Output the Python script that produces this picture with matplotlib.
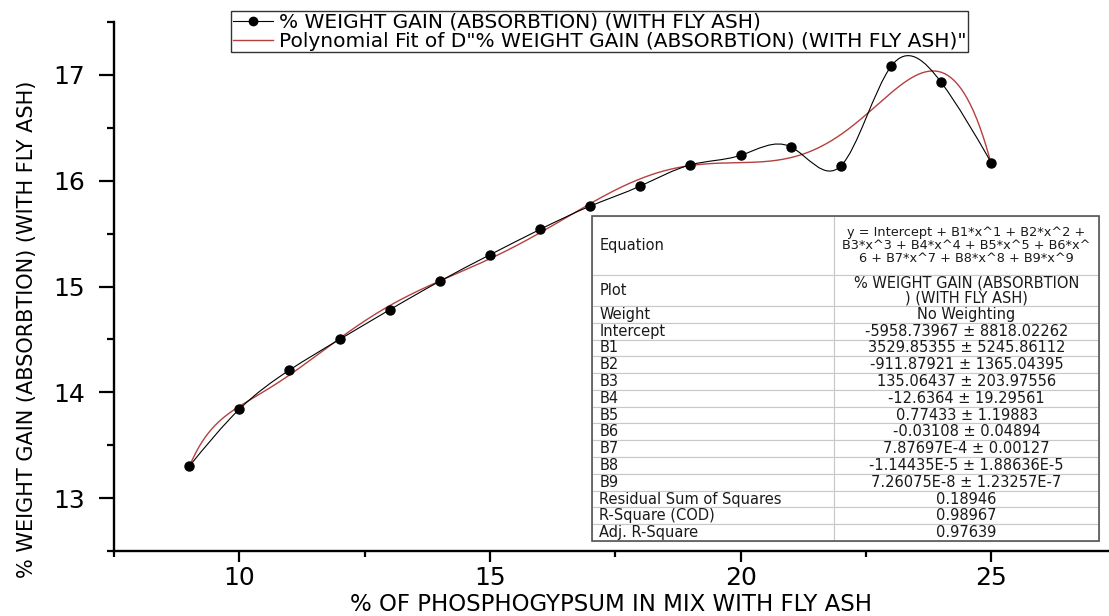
import numpy as np
import matplotlib.pyplot as plt
from matplotlib.path import Path
from matplotlib.patches import PathPatch, Rectangle
from matplotlib.lines import Line2D
from matplotlib.ticker import MultipleLocator

phosphogypsum = [9, 10, 11, 12, 13, 14, 15, 16, 17, 18, 19, 20, 21, 22, 23, 24, 25]
weight_gain = [13.30, 13.84, 14.21, 14.50, 14.78, 15.05, 15.30, 15.54, 15.76,
               15.95, 16.15, 16.24, 16.32, 16.14, 17.08, 16.93, 16.17]

data_label = "% WEIGHT GAIN (ABSORBTION) (WITH FLY ASH)"
fit_label = 'Polynomial Fit of D"% WEIGHT GAIN (ABSORBTION) (WITH FLY ASH)"'

# fit report table
table_labels = ["Equation", "Plot", "Weight", "Intercept", "B1", "B2", "B3", "B4",
                "B5", "B6", "B7", "B8", "B9", "Residual Sum of Squares",
                "R-Square (COD)", "Adj. R-Square"]
table_values = ["y = Intercept + B1*x^1 + B2*x^2 +\nB3*x^3 + B4*x^4 + B5*x^5 + B6*x^\n6 + B7*x^7 + B8*x^8 + B9*x^9",
                "% WEIGHT GAIN (ABSORBTION\n) (WITH FLY ASH)",
                "No Weighting",
                "-5958.73967 \u00b1 8818.02262",
                "3529.85355 \u00b1 5245.86112",
                "-911.87921 \u00b1 1365.04395",
                "135.06437 \u00b1 203.97556",
                "-12.6364 \u00b1 19.29561",
                "0.77433 \u00b1 1.19883",
                "-0.03108 \u00b1 0.04894",
                "7.87697E-4 \u00b1 0.00127",
                "-1.14435E-5 \u00b1 1.88636E-5",
                "7.26075E-8 \u00b1 1.23257E-7",
                "0.18946",
                "0.98967",
                "0.97639"]

red = '#b5403f'


def spline_path(x, y):
    # natural cubic spline through the points, as bezier segments
    x = np.asarray(x, float)
    y = np.asarray(y, float)
    n = len(x)
    h = np.diff(x)
    A = np.zeros((n, n))
    rhs = np.zeros(n)
    A[0, 0] = A[-1, -1] = 1
    for i in range(1, n - 1):
        A[i, i - 1] = h[i - 1]
        A[i, i] = 2 * (h[i - 1] + h[i])
        A[i, i + 1] = h[i]
        rhs[i] = 6 * ((y[i + 1] - y[i]) / h[i] - (y[i] - y[i - 1]) / h[i - 1])
    M = np.linalg.solve(A, rhs)
    verts = [(x[0], y[0])]
    codes = [Path.MOVETO]
    for i in range(n - 1):
        s = (y[i + 1] - y[i]) / h[i]
        d0 = s - h[i] * (2 * M[i] + M[i + 1]) / 6
        d1 = s + h[i] * (M[i] + 2 * M[i + 1]) / 6
        verts += [(x[i] + h[i] / 3, y[i] + d0 * h[i] / 3),
                  (x[i + 1] - h[i] / 3, y[i + 1] - d1 * h[i] / 3),
                  (x[i + 1], y[i + 1])]
        codes += [Path.CURVE4] * 3
    return Path(verts, codes)


fig = plt.figure(figsize=(11.09, 6.16), dpi=100)
ax = fig.add_axes([114 / 1109, 65 / 616, 995 / 1109, 529 / 616])

# 9th order polynomial fit
poly = np.polynomial.Polynomial.fit(phosphogypsum, weight_gain, 9)
xf = np.linspace(min(phosphogypsum), max(phosphogypsum), 500)
ax.plot(xf, poly(xf), color=red, lw=1.0, zorder=2)

ax.add_patch(PathPatch(spline_path(phosphogypsum, weight_gain), facecolor='none',
                       edgecolor='black', lw=0.8, zorder=3))
ax.plot(phosphogypsum, weight_gain, 'o', color='black', ms=6.5, zorder=4)

ax.set_xlim(7.5, 7.5 + 995 / 50.13)
ax.set_ylim(12.5, 17.5)
ax.xaxis.set_major_locator(MultipleLocator(5))
ax.xaxis.set_minor_locator(MultipleLocator(2.5))
ax.yaxis.set_major_locator(MultipleLocator(1))
ax.yaxis.set_minor_locator(MultipleLocator(0.5))
for s in ['top', 'right']:
    ax.spines[s].set_visible(False)
for s in ['left', 'bottom']:
    ax.spines[s].set_linewidth(1.7)
ax.tick_params(axis='both', which='major', labelsize=18, width=1.6)
ax.tick_params(axis='y', which='major', length=11, pad=10)
ax.tick_params(axis='x', which='major', length=8, pad=3)
ax.tick_params(axis='y', which='minor', length=5, width=1.6)
ax.tick_params(axis='x', which='minor', length=4, width=1.6)

ax.set_xlabel("% OF PHOSPHOGYPSUM IN MIX WITH FLY ASH", fontsize=16.5, va='baseline')
ax.xaxis.set_label_coords(0.5, (551 - 611) / 529)
ax.set_ylabel(data_label, fontsize=15, va='center')
ax.yaxis.set_label_coords((27 - 114) / 995, (551 - 329) / 529)

# legend
handles = [Line2D([], [], color='black', lw=0.8, marker='o', ms=6),
           Line2D([], [], color=red, lw=1.0)]
leg = ax.legend(handles, [data_label, fit_label], loc='upper left',
                bbox_to_anchor=(231 / 1109, 1 - 11 / 616), bbox_transform=fig.transFigure,
                fontsize=14.5, frameon=True, fancybox=False, edgecolor='#333333',
                framealpha=1, borderaxespad=0, borderpad=0.08, labelspacing=0.0,
                handlelength=2.0, handletextpad=0.3)
leg.get_frame().set_linewidth(1.0)

# fit results table
tb_box = [(592 - 114) / 995, (551 - 541) / 529, (1099 - 592) / 995, (541 - 216) / 529]
cell_text = [[a, b] for a, b in zip(table_labels, table_values)]
tab = ax.table(cellText=cell_text, colWidths=[242, 265], bbox=tb_box, zorder=5)
tab.auto_set_font_size(False)
tab.set_fontsize(10.5)
row_h = [59, 31] + [16.8] * 14
for (r, c), cell in tab.get_celld().items():
    cell.set_height(row_h[r])
    cell.set_edgecolor('#c8c8c8')
    cell.set_linewidth(0.8)
    cell.PAD = 0.03
    txt = cell.get_text()
    txt.set_horizontalalignment('left' if c == 0 else 'center')
    txt.set_color('#1a1a1a')
    txt.set_multialignment('center')
    if r == 0 and c == 1:
        txt.set_fontsize(9.3)
        txt.set_linespacing(1.0)
    if r == 1 and c == 1:
        txt.set_linespacing(0.95)
ax.add_patch(Rectangle((tb_box[0], tb_box[1]), tb_box[2], tb_box[3], transform=ax.transAxes,
                       fill=False, edgecolor='#555555', lw=1.2, zorder=6, clip_on=False))

plt.savefig('out.png', dpi=100)
